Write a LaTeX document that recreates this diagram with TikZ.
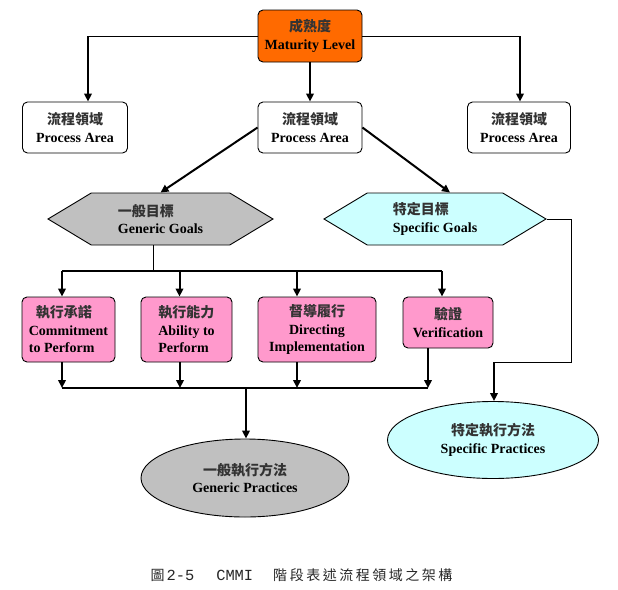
\documentclass[tikz,border=0pt]{standalone}
\usepackage{fontspec}
\setmainfont{Liberation Serif}
\setmonofont{Liberation Mono}
\newfontfamily\cjk{Noto Sans CJK TC}
\newfontfamily\cjkcap[LetterSpace=18]{Noto Sans CJK TC}
\newcommand\zhtext[1]{{\cjk\color{black!80}#1}}
\usetikzlibrary{arrows.meta,shapes.symbols,shapes.geometric}
\definecolor{mlorange}{HTML}{FF6A00}
\definecolor{ggray}{HTML}{C0C0C0}
\definecolor{gcyan}{HTML}{CCFFFF}
\definecolor{gpink}{HTML}{FF99CC}
\begin{document}
\begin{tikzpicture}[x=1pt,y=-1pt,
  lbl/.style={font=\fontsize{14}{17.5}\selectfont\bfseries, align=center, inner sep=0pt},
  boxstyle/.style={lbl, draw=black, line width=0.9pt, rounded corners=5pt},
  hexstyle/.style={lbl, draw=black, line width=0.9pt, signal, signal to=west and east, signal pointer angle=62},
  ovalstyle/.style={lbl, draw=black, line width=0.9pt, ellipse},
  arr/.style={line width=2pt, -{Triangle[length=8pt,width=7.5pt]}},
  thinline/.style={line width=1pt},
  midline/.style={line width=1.5pt},
]
\useasboundingbox (0,0) rectangle (618,589);

% top
\node[boxstyle, fill=mlorange, minimum width=104pt, minimum height=52pt] (ml) at (310,36) {\zhtext{成熟度}\\Maturity Level};
\node[boxstyle, fill=white, minimum width=105pt, minimum height=51pt] (pa1) at (75,127.5) {\zhtext{流程領域}\\Process Area};
\node[boxstyle, fill=white, minimum width=104pt, minimum height=51pt] (pa2) at (310,127.5) {\zhtext{流程領域}\\Process Area};
\node[boxstyle, fill=white, minimum width=103pt, minimum height=51pt] (pa3) at (519,127.5) {\zhtext{流程領域}\\Process Area};

\coordinate (tl) at (88,36);
\coordinate (tr) at (520,36);
\draw[thinline] (ml.west) -- (tl);
\draw[thinline] (ml.east) -- (tr);
\draw[arr] (tl) -- (tl |- pa1.north);
\draw[arr] (tr) -- (tr |- pa3.north);
\draw[arr] (ml.south) -- (pa2.north);

% goals
\node[hexstyle, fill=ggray, minimum width=225pt, minimum height=52pt, align=left] (gg) at (160.5,219) {\zhtext{一般目標}\\Generic Goals};
\node[hexstyle, fill=gcyan, minimum width=222pt, minimum height=52pt, align=left] (sg) at (435,219) {\zhtext{特定目標}\\Specific Goals};

\draw[arr] (pa2.west) -- (gg.north);
\draw[arr] (pa2.east) -- ([xshift=15pt]sg.north);

% pink boxes
\node[boxstyle, fill=gpink, minimum width=93pt, minimum height=65pt, align=left] (b1) at (68.5,329.5) {\hspace*{7pt}\zhtext{執行承諾}\\Commitment\\to Perform};
\node[boxstyle, fill=gpink, minimum width=91pt, minimum height=65pt, align=left] (b2) at (186.5,329.5) {\zhtext{執行能力}\\Ability to\\Perform};
\node[boxstyle, fill=gpink, minimum width=118pt, minimum height=65pt] (b3) at (317,329.5) {\zhtext{督導履行}\\Directing\\Implementation};
\node[boxstyle, fill=gpink, minimum width=90pt, minimum height=51pt] (b4) at (448,322.5) {\zhtext{驗證}\\Verification};

\coordinate (gs) at (153,271);
\draw[thinline] (gs |- gg.south) -- (gs);
\coordinate (h1) at (62,271);
\coordinate (h2) at (179.5,271);
\coordinate (h3) at (297,271);
\coordinate (h4) at (442,271);
\draw[midline] (h1) -- (h4);
\draw[arr] (h1) -- (h1 |- b1.north);
\draw[arr] (h2) -- (h2 |- b2.north);
\draw[arr] (h3) -- (h3 |- b3.north);
\draw[arr] (h4) -- (h4 |- b4.north);

% practices
\node[ovalstyle, fill=ggray, minimum width=208pt, minimum height=78pt] (gp) at (245,478) {\zhtext{一般執行方法}\\Generic Practices};
\node[ovalstyle, fill=gcyan, minimum width=211pt, minimum height=77pt] (sp) at (493,440) {\zhtext{特定執行方法}\\Specific Practices};

\coordinate (g1) at (62,388);
\coordinate (g2) at (180,388);
\coordinate (g3) at (297,388);
\coordinate (g4) at (428,388);
\draw[arr] (g1 |- b1.south) -- (g1);
\draw[arr] (g2 |- b2.south) -- (g2);
\draw[arr] (g3 |- b3.south) -- (g3);
\draw[arr] (g4 |- b4.south) -- (g4);
\draw[midline] (g1) -- (g4);
\coordinate (gm) at (246,388);
\draw[arr] (gm) -- (gm |- gp.north);

\coordinate (s1) at (571,219);
\coordinate (s2) at (571,362);
\coordinate (s3) at (494,362);
\draw[thinline] (sg.east) -- (s1) -- (s2) -- (s3);
\draw[arr] (s3) -- (s3 |- sp.north);

% caption
\node[inner sep=0pt, font=\fontsize{14}{16}\selectfont, text=black!85] (cap) at (301.5,575) {{\cjk 圖}\hspace{2pt}{\ttfamily\fontsize{15.4}{16}\selectfont 2-5}\hspace{22pt}{\ttfamily\fontsize{15.4}{16}\selectfont CMMI}\hspace{20pt}{\cjkcap 階段表述流程領域之架構}};
\end{tikzpicture}
\end{document}
